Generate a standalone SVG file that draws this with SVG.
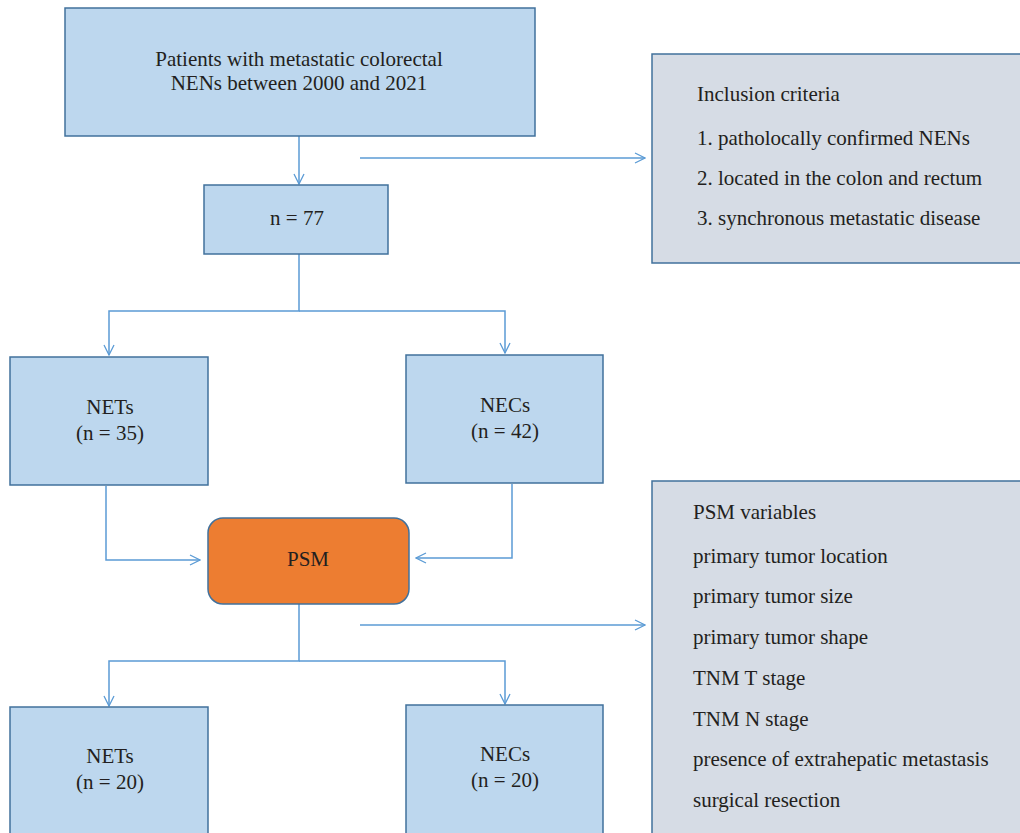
<svg xmlns="http://www.w3.org/2000/svg" width="1020" height="833" viewBox="0 0 1020 833">
<style>
.box{fill:#bdd7ee;stroke:#41719c;stroke-width:1.5}
.side{fill:#d6dce5;stroke:#41719c;stroke-width:1.5}
.psm{fill:#ed7d31;stroke:#41719c;stroke-width:1.5}
text{font-family:"Liberation Serif","Times New Roman",serif;font-size:21px;fill:#231f20}
.c{text-anchor:middle}
.conn path{fill:none;stroke:#5b9bd5;stroke-width:1.5}
</style>
<defs>
<marker id="ah" viewBox="0 0 12 12" refX="11" refY="6" markerWidth="12" markerHeight="12" markerUnits="userSpaceOnUse" orient="auto">
<path d="M1,1 L11,6 L1,11" fill="none" stroke="#5b9bd5" stroke-width="1.3"/>
</marker>
</defs>
<rect width="1020" height="833" fill="#fff"/>
<g class="conn">
<path d="M299,136 V184" marker-end="url(#ah)"/>
<path d="M360,158 H645" marker-end="url(#ah)"/>
<path d="M299,254 V311 H109 V355" marker-end="url(#ah)"/>
<path d="M299,311 H505 V353" marker-end="url(#ah)"/>
<path d="M106,486 V560 H200" marker-end="url(#ah)"/>
<path d="M512,484 V558 H416" marker-end="url(#ah)"/>
<path d="M299,604 V661 H109 V706" marker-end="url(#ah)"/>
<path d="M299,661 H505 V704" marker-end="url(#ah)"/>
<path d="M360,625 H645" marker-end="url(#ah)"/>
</g>
<g id="start"><rect class="box" x="65" y="8" width="470" height="128"/>
<text class="c" x="299" y="66">Patients with metastatic colorectal</text>
<text class="c" x="299" y="90">NENs between 2000 and 2021</text></g>
<g id="n77"><rect class="box" x="204" y="185" width="184" height="69"/>
<text class="c" x="297" y="225">n = 77</text></g>
<g id="inclusion"><rect class="side" x="652" y="54" width="380" height="209"/>
<text x="697" y="101">Inclusion criteria</text>
<text x="697" y="145">1. patholocally confirmed NENs</text>
<text x="697" y="185">2. located in the colon and rectum</text>
<text x="697" y="225">3. synchronous metastatic disease</text></g>
<g id="nets1"><rect class="box" x="10" y="357" width="198" height="128"/>
<text class="c" x="110" y="414">NETs</text>
<text class="c" x="110" y="440">(n = 35)</text></g>
<g id="necs1"><rect class="box" x="406" y="355" width="197" height="128"/>
<text class="c" x="505" y="412">NECs</text>
<text class="c" x="505" y="438">(n = 42)</text></g>
<g id="psm"><rect class="psm" x="208" y="518" width="201" height="86" rx="15"/>
<text class="c" x="308" y="566">PSM</text></g>
<g id="psmvars"><rect class="side" x="652" y="481" width="380" height="370"/>
<text x="693" y="519">PSM variables</text>
<text x="693" y="563">primary tumor location</text>
<text x="693" y="603">primary tumor size</text>
<text x="693" y="644">primary tumor shape</text>
<text x="693" y="685">TNM T stage</text>
<text x="693" y="726">TNM N stage</text>
<text x="693" y="766">presence of extrahepatic metastasis</text>
<text x="693" y="807">surgical resection</text></g>
<g id="nets2"><rect class="box" x="10" y="707" width="198" height="140"/>
<text class="c" x="110" y="763">NETs</text>
<text class="c" x="110" y="789">(n = 20)</text></g>
<g id="necs2"><rect class="box" x="406" y="705" width="197" height="140"/>
<text class="c" x="505" y="761">NECs</text>
<text class="c" x="505" y="787">(n = 20)</text></g>
</svg>
